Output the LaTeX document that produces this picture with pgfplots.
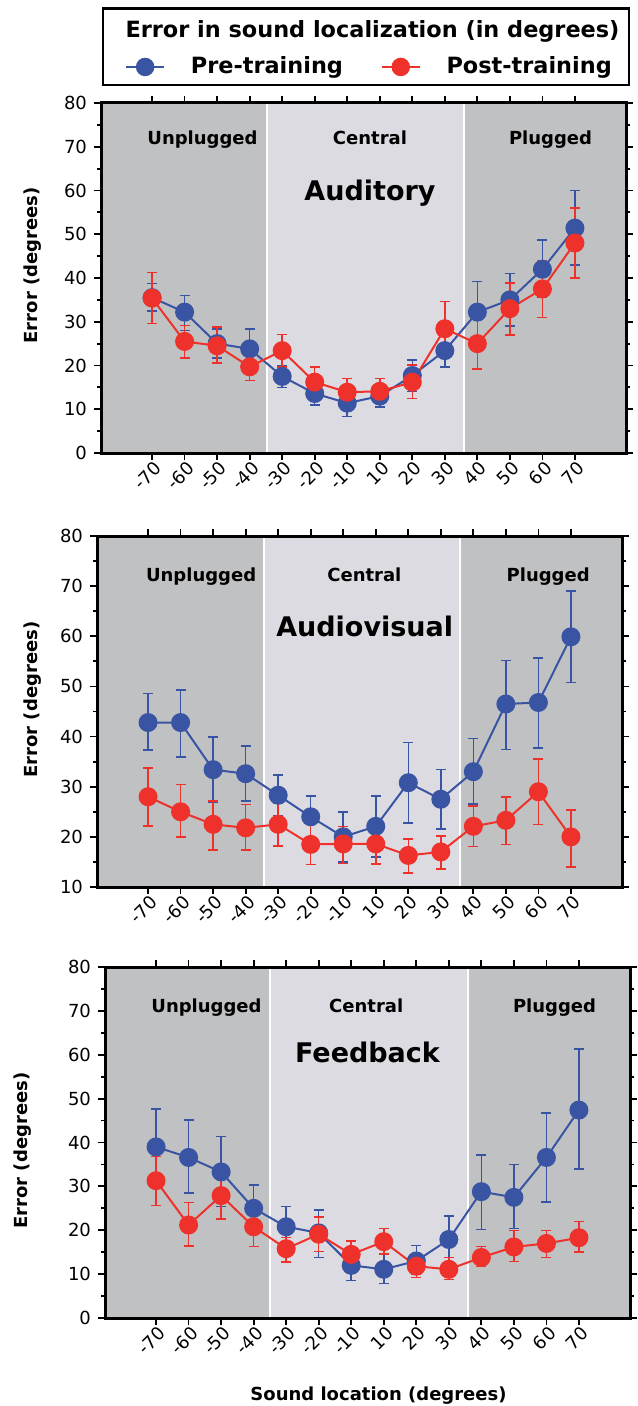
\documentclass[border=0pt]{standalone}
\usepackage{fontspec}
\setmainfont{DejaVu Sans}
\usepackage{pgfplots}
\pgfplotsset{compat=1.18}

\definecolor{pre}{HTML}{3A54A4}
\definecolor{post}{HTML}{EE312A}
\definecolor{side}{HTML}{C0C1C3}
\definecolor{mid}{HTML}{DDDBE2}

\tikzset{
  zone/.style={font=\bfseries\fontsize{9}{10}\selectfont, anchor=base},
  big/.style={font=\bfseries\fontsize{13.5}{15}\selectfont, anchor=base},
}

\pgfplotsset{
  panel/.style={
    scale only axis, width=262.5pt,
    xmin=-1.57, xmax=14.57,
    xtick={0,...,13},
    xticklabels={-70,-60,-50,-40,-30,-20,-10,10,20,30,40,50,60,70},
    ytick distance=10, minor y tick num=1,
    tick align=outside,
    major tick length=3.5pt, minor tick length=2pt,
    every tick/.style={black, line width=0.9pt},
    axis line style={line width=1.5pt},
    axis on top,
    tick label style={font=\fontsize{9}{10}\selectfont},
    /pgf/number format/assume math mode=true,
    xticklabel style={rotate=45, anchor=east, inner sep=0.5pt, yshift=-4pt, xshift=1pt},
    label style={font=\bfseries\fontsize{9}{10}\selectfont},
  },
  region/.style={draw=white, line width=1pt, fill=#1, forget plot},
  pre/.style={color=pre, line width=1pt, mark=*, mark size=4.25pt,
    error bars/.cd, y dir=both, y explicit,
    error bar style={line width=0.75pt},
    error mark options={rotate=90, line width=0.75pt, mark size=2.5pt}},
  post/.style={color=post, line width=1pt, mark=*, mark size=4.25pt,
    error bars/.cd, y dir=both, y explicit,
    error bar style={line width=0.75pt},
    error mark options={rotate=90, line width=0.75pt, mark size=2.5pt}},
}

\begin{document}
\begin{tikzpicture}
\useasboundingbox (0pt,0pt) rectangle (318.5pt,-703pt);

% legend box and heading
\draw[line width=1.25pt] (51.5pt,-4.25pt) rectangle (314.5pt,-42.5pt);
\node[anchor=base, font=\bfseries\fontsize{11.2}{13}\selectfont] at (186.25pt,-19pt)
  {Error in sound localization (in degrees)};

% ---------- Auditory ----------
\begin{axis}[panel, height=175pt,
    at={(50.5pt,-226.5pt)}, anchor=south west,
    ymin=0, ymax=80,
    ylabel={Error (degrees)},
    ylabel style={at={(axis description cs:-0.1295,0.536)}, anchor=center},
    legend columns=2,
    legend style={at={(axis description cs:0.0457,1.103)}, anchor=west,
      draw=none, fill=none, inner sep=0pt,
      font=\bfseries\fontsize{11.2}{13}\selectfont,
      /tikz/every odd column/.append style={column sep=11pt},
      /tikz/every even column/.append style={column sep=17pt}},
    legend image code/.code={\draw[mark repeat=2, mark phase=2, line width=0.75pt]
      plot coordinates {(0pt,0pt) (9.5pt,0pt) (19pt,0pt)};},
  ]
  \addplot[region=side] coordinates {(-1.57,0) (3.53,0) (3.53,80) (-1.57,80)} -- cycle;
  \addplot[region=mid] coordinates {(3.53,0) (9.58,0) (9.58,80) (3.53,80)} -- cycle;
  \addplot[region=side] coordinates {(9.58,0) (14.57,0) (14.57,80) (9.58,80)} -- cycle;
  \addplot[pre] coordinates {
    (0,35.5) += (0,3.2) -= (0,3.0)
    (1,32.2) += (0,3.8) -= (0,4.2)
    (2,25.0) += (0,3.3) -= (0,3.3)
    (3,23.8) += (0,4.5) -= (0,4.3)
    (4,17.5) += (0,2.5) -= (0,2.5)
    (5,13.6) += (0,2.4) -= (0,2.6)
    (6,11.4) += (0,3.1) -= (0,3.1)
    (7,13.0) += (0,2.5) -= (0,2.5)
    (8,17.7) += (0,3.6) -= (0,3.7)
    (9,23.4) += (0,3.6) -= (0,3.8)
    (10,32.2) += (0,7.0) -= (0,7.2)
    (11,35.0) += (0,6.0) -= (0,6.0)
    (12,42.0) += (0,6.7) -= (0,6.5)
    (13,51.4) += (0,8.6) -= (0,8.4)
  };
  \addplot[post] coordinates {
    (0,35.4) += (0,5.8) -= (0,5.8)
    (1,25.5) += (0,3.6) -= (0,3.8)
    (2,24.5) += (0,4.3) -= (0,3.9)
    (3,19.7) += (0,2.9) -= (0,3.1)
    (4,23.4) += (0,3.7) -= (0,3.7)
    (5,16.2) += (0,3.4) -= (0,2.9)
    (6,13.9) += (0,3.1) -= (0,3.5)
    (7,14.1) += (0,2.9) -= (0,2.5)
    (8,16.2) += (0,3.9) -= (0,3.8)
    (9,28.4) += (0,6.2) -= (0,6.2)
    (10,25.0) += (0,6.0) -= (0,5.8)
    (11,33.0) += (0,5.8) -= (0,6.0)
    (12,37.5) += (0,6.5) -= (0,6.5)
    (13,48.0) += (0,8.0) -= (0,8.0)
  };
  \legend{Pre-training, Post-training}
  \node[zone] at (axis cs:1.55,70.4) {Unplugged};
  \node[zone] at (axis cs:6.7,70.4) {Central};
  \node[zone] at (axis cs:12.25,70.4) {Plugged};
  \node[big] at (axis cs:6.7,57.6) {Auditory};
\end{axis}

% ---------- Audiovisual ----------
\begin{axis}[panel, height=175.5pt,
    at={(48.5pt,-443.5pt)}, anchor=south west,
    ymin=10, ymax=80,
    ylabel={Error (degrees)},
    ylabel style={at={(axis description cs:-0.123,0.534)}, anchor=center},
  ]
  \addplot[region=side] coordinates {(-1.57,10) (3.55,10) (3.55,80) (-1.57,80)} -- cycle;
  \addplot[region=mid] coordinates {(3.55,10) (9.6,10) (9.6,80) (3.55,80)} -- cycle;
  \addplot[region=side] coordinates {(9.6,10) (14.57,10) (14.57,80) (9.6,80)} -- cycle;
  \addplot[pre] coordinates {
    (0,42.8) += (0,5.8) -= (0,5.5)
    (1,42.8) += (0,6.5) -= (0,6.9)
    (2,33.4) += (0,6.5) -= (0,6.4)
    (3,32.6) += (0,5.5) -= (0,5.4)
    (4,28.3) += (0,4.0) -= (0,4.0)
    (5,24.0) += (0,4.2) -= (0,4.2)
    (6,20.0) += (0,5.0) -= (0,5.0)
    (7,22.1) += (0,6.1) -= (0,6.1)
    (8,30.8) += (0,8.0) -= (0,8.0)
    (9,27.5) += (0,5.9) -= (0,5.9)
    (10,33.0) += (0,6.6) -= (0,6.4)
    (11,46.5) += (0,8.7) -= (0,9.1)
    (12,46.8) += (0,8.9) -= (0,9.1)
    (13,59.9) += (0,9.1) -= (0,9.1)
  };
  \addplot[post] coordinates {
    (0,28.0) += (0,5.7) -= (0,5.8)
    (1,25.0) += (0,5.4) -= (0,5.0)
    (2,22.5) += (0,4.7) -= (0,5.1)
    (3,21.8) += (0,4.7) -= (0,4.4)
    (4,22.5) += (0,4.3) -= (0,4.3)
    (5,18.5) += (0,4.2) -= (0,4.0)
    (6,18.6) += (0,3.5) -= (0,3.9)
    (7,18.6) += (0,3.9) -= (0,4.0)
    (8,16.3) += (0,3.3) -= (0,3.5)
    (9,17.0) += (0,3.2) -= (0,3.4)
    (10,22.1) += (0,4.1) -= (0,4.0)
    (11,23.3) += (0,4.7) -= (0,4.8)
    (12,29.0) += (0,6.5) -= (0,6.5)
    (13,20.0) += (0,5.4) -= (0,6.0)
  };
  \node[zone] at (axis cs:1.63,70.9) {Unplugged};
  \node[zone] at (axis cs:6.65,70.9) {Central};
  \node[zone] at (axis cs:12.3,70.9) {Plugged};
  \node[big] at (axis cs:6.66,59.9) {Audiovisual};
\end{axis}

% ---------- Feedback ----------
\begin{axis}[panel, height=175.5pt,
    at={(52.5pt,-659pt)}, anchor=south west,
    ymin=0, ymax=80,
    ylabel={Error (degrees)},
    ylabel style={at={(axis description cs:-0.157,0.477)}, anchor=center},
    xlabel={Sound location (degrees)},
    xlabel style={at={(axis description cs:0.521,-0.234)}, anchor=base},
  ]
  \addplot[region=side] coordinates {(-1.57,0) (3.5,0) (3.5,80) (-1.57,80)} -- cycle;
  \addplot[region=mid] coordinates {(3.5,0) (9.6,0) (9.6,80) (3.5,80)} -- cycle;
  \addplot[region=side] coordinates {(9.6,0) (14.57,0) (14.57,80) (9.6,80)} -- cycle;
  \addplot[pre] coordinates {
    (0,39.0) += (0,8.6) -= (0,7.6)
    (1,36.6) += (0,8.5) -= (0,8.1)
    (2,33.3) += (0,8.1) -= (0,7.9)
    (3,25.0) += (0,5.3) -= (0,5.2)
    (4,20.8) += (0,4.6) -= (0,4.3)
    (5,19.4) += (0,5.2) -= (0,5.6)
    (6,12.0) += (0,3.0) -= (0,3.4)
    (7,11.1) += (0,3.4) -= (0,3.2)
    (8,13.0) += (0,3.5) -= (0,3.0)
    (9,17.9) += (0,5.4) -= (0,5.4)
    (10,28.8) += (0,8.4) -= (0,8.6)
    (11,27.5) += (0,7.5) -= (0,7.1)
    (12,36.6) += (0,10.1) -= (0,10.1)
    (13,47.4) += (0,13.9) -= (0,13.4)
  };
  \addplot[post] coordinates {
    (0,31.3) += (0,5.5) -= (0,5.7)
    (1,21.2) += (0,5.1) -= (0,4.8)
    (2,27.9) += (0,5.3) -= (0,5.3)
    (3,20.8) += (0,4.2) -= (0,4.5)
    (4,15.8) += (0,2.5) -= (0,3.0)
    (5,19.1) += (0,3.9) -= (0,3.9)
    (6,14.5) += (0,3.1) -= (0,2.9)
    (7,17.4) += (0,3.0) -= (0,2.8)
    (8,11.8) += (0,2.6) -= (0,2.6)
    (9,11.1) += (0,2.7) -= (0,2.3)
    (10,13.8) += (0,2.5) -= (0,2.1)
    (11,16.2) += (0,3.8) -= (0,3.3)
    (12,17.0) += (0,3.0) -= (0,3.2)
    (13,18.3) += (0,3.7) -= (0,3.3)
  };
  \node[zone] at (axis cs:1.55,69.7) {Unplugged};
  \node[zone] at (axis cs:6.46,69.7) {Central};
  \node[zone] at (axis cs:12.25,69.7) {Plugged};
  \node[big] at (axis cs:6.5,58.3) {Feedback};
\end{axis}
\end{tikzpicture}
\end{document}
